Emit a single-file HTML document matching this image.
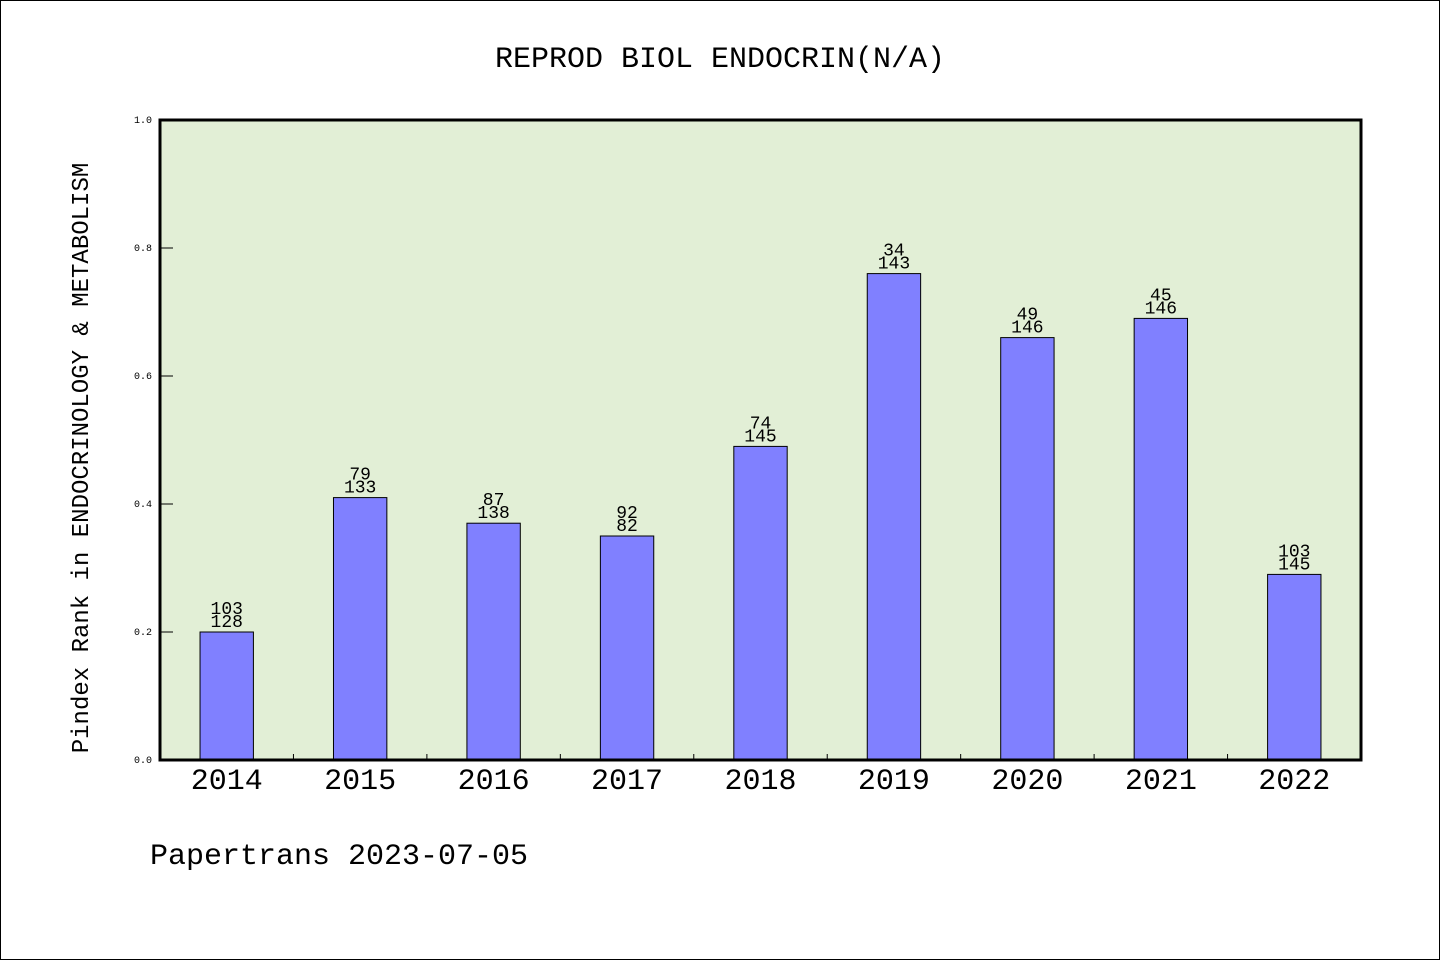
<!DOCTYPE html>
<html><head><meta charset="utf-8"><style>
html,body{margin:0;padding:0;background:#fff}
svg{display:block}
text{font-family:"WenQuanYi Zen Hei","Liberation Mono",monospace;fill:#000}
</style></head><body>
<svg id="chart" width="1440" height="960" viewBox="0 0 1440 960">
<rect x="0.5" y="0.5" width="1439" height="959" fill="#fff" stroke="#000" stroke-width="1"/>
<text x="720" y="67" font-size="30" text-anchor="middle">REPROD BIOL ENDOCRIN(N/A)</text>
<rect x="160" y="120" width="1201" height="640" fill="#e2efd6"/>
<g id="ticks"></g>
<g id="bars"></g>
<rect x="160" y="120" width="1201" height="640" fill="none" stroke="#000" stroke-width="3"/>
<text transform="translate(88,458) rotate(-90)" font-size="24" text-anchor="middle">Pindex Rank in ENDOCRINOLOGY &amp; METABOLISM</text>
<text x="150" y="864" font-size="30">Papertrans 2023-07-05</text>
</svg>
<script>
const categories = ["2014","2015","2016","2017","2018","2019","2020","2021","2022"];
const values = [0.20,0.41,0.37,0.35,0.49,0.76,0.66,0.69,0.29];
const ranks = ["103","79","87","92","74","34","49","45","103"];
const totals = ["128","133","138","82","145","143","146","146","145"];
const yTicks = [0,0.2,0.4,0.6,0.8,1.0];
const yTickLabels = ["0.0","0.2","0.4","0.6","0.8","1.0"];

const NS="http://www.w3.org/2000/svg";
const X0=160,X1=1361,Y0=760,Y1=120;
const band=(X1-X0)/categories.length;
const xC=i=>X0+band*(i+0.5);
const y=v=>Y0-(v-0)/(1-0)*(Y0-Y1);
function mk(tag,attrs,parent){const e=document.createElementNS(NS,tag);for(const k in attrs)e.setAttribute(k,attrs[k]);parent.appendChild(e);return e;}
const tg=document.getElementById('ticks'), bg=document.getElementById('bars');
yTicks.forEach((t,i)=>{
  const l=mk('line',{x1:X0,x2:X0+13,y1:y(t),y2:y(t),stroke:'#000','stroke-width':1},tg);
  
  
  const tx=mk('text',{x:152,y:y(t)+3,'font-size':10,'text-anchor':'end'},tg);
  tx.textContent=yTickLabels[i];
  
  
});
for(let i=1;i<categories.length;i++){
  const xx=X0+band*i;
  const l=mk('line',{x1:xx,x2:xx,y1:Y0,y2:Y0-6,stroke:'#000','stroke-width':1},tg);
  
  
}
const bw=band*0.4;
categories.forEach((c,i)=>{
  const cx=xC(i);
  const r=mk('rect',{x:cx-bw/2,y:y(values[i]),width:bw,height:Y0-y(values[i]),fill:'#8080ff',stroke:'#000','stroke-width':1},bg);
  
  
  const t1=mk('text',{x:cx,y:y(values[i])-18,'font-size':18,'text-anchor':'middle'},bg);
  t1.textContent=ranks[i];
  
  
  const t2=mk('text',{x:cx,y:y(values[i])-5,'font-size':18,'text-anchor':'middle'},bg);
  t2.textContent=totals[i];
  
  
  const xl=mk('text',{x:cx,y:789,'font-size':30,'text-anchor':'middle'},bg);
  xl.textContent=c;
  
  
});
</script>
</body></html>
